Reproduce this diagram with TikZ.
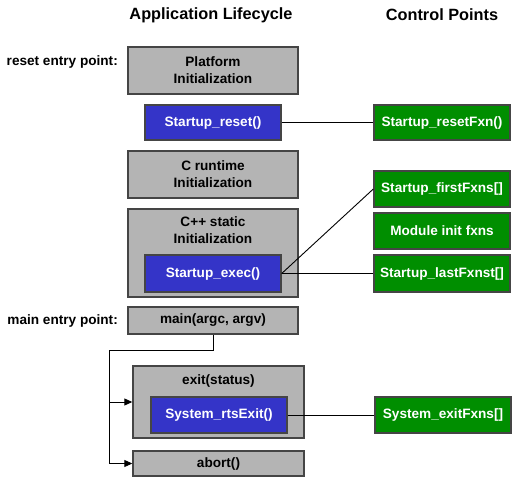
\documentclass[tikz,border=0pt]{standalone}
\usepackage{fontspec}
\setmainfont{Liberation Sans}
\usetikzlibrary{arrows.meta}
\definecolor{boxgray}{HTML}{B4B4B4}
\definecolor{boxedge}{HTML}{454545}
\definecolor{fxblue}{HTML}{3434C8}
\definecolor{fxgreen}{HTML}{008E00}
\tikzset{
  base/.style={draw=boxedge, line width=1.4pt, inner sep=0pt, align=center,
    font=\bfseries\fontsize{13.6}{17}\selectfont},
  graybox/.style={base, fill=boxgray, text=black},
  bluebox/.style={base, fill=fxblue, text=white},
  greenbox/.style={base, fill=fxgreen, text=white},
  title/.style={font=\bfseries\fontsize{16.3}{20}\selectfont},
  entry/.style={font=\bfseries\fontsize{13.6}{17}\selectfont, anchor=east, inner sep=0pt},
  conn/.style={draw=black, line width=0.9pt},
  arr/.style={conn, -{Triangle[length=8pt,width=7pt]}}
}
\begin{document}
\begin{tikzpicture}[x=1pt,y=-1pt]
\useasboundingbox (0,0) rectangle (516,481);
\fill[white] (0,0) rectangle (516,481);

\node[title] (t1) at (211,15) {Application Lifecycle};
\node[title] (t2) at (442,15) {Control Points};

\node[entry] (re) at (118,62) {reset entry point:};
\node[entry] (me) at (118,321) {main entry point:};

\node[graybox, minimum width=170, minimum height=47] (plat) at (213,70.5) {Platform\\Initialization};
\node[bluebox, minimum width=136, minimum height=35] (reset) at (213,122.5) {Startup\_reset()};
\node[greenbox, minimum width=136, minimum height=35] (resetfxn) at (442,122.5) {Startup\_resetFxn()};

\node[graybox, minimum width=170, minimum height=47] (crt) at (213,174.5) {C runtime\\Initialization};

\node[graybox, minimum width=170, minimum height=88] (cpp) at (213,253) {};
\node[font=\bfseries\fontsize{13.6}{17}\selectfont, align=center, inner sep=0pt] (cpptxt) at (213,230.5) {C++ static\\Initialization};
\node[bluebox, minimum width=136, minimum height=37] (exec) at (213,273.5) {Startup\_exec()};

\node[greenbox, minimum width=136, minimum height=36] (first) at (442,189) {Startup\_firstFxns[]};
\node[greenbox, minimum width=136, minimum height=36] (module) at (442,231) {Module init fxns};
\node[greenbox, minimum width=136, minimum height=37] (last) at (442,273.5) {Startup\_lastFxnst[]};

\node[graybox, minimum width=170, minimum height=27] (main) at (213,320.5) {main(argc, argv)};

\node[graybox, minimum width=171, minimum height=72] (exit) at (218.5,402) {};
\node[font=\bfseries\fontsize{13.6}{17}\selectfont, inner sep=0pt] (exittxt) at (218.5,381) {exit(status)};
\node[bluebox, minimum width=136, minimum height=36] (rts) at (219,415) {System\_rtsExit()};
\node[greenbox, minimum width=136, minimum height=36] (exitfxn) at (443,415) {System\_exitFxns[]};

\node[graybox, minimum width=171, minimum height=25] (abort) at (218.5,463.5) {abort()};

\path[conn] (reset.east) -- (resetfxn.west);
\path[conn] (exec.east) -- (first.west);
\path[conn] (exec.east) -- (last.west);
\path[conn] (rts.east) -- (exitfxn.west);

\coordinate (j) at (109,350);
\path[conn] (main.south) |- (j);
\path[arr] (j) |- (exit.west);
\path[arr] (j) |- (abort.west);
\end{tikzpicture}
\end{document}
